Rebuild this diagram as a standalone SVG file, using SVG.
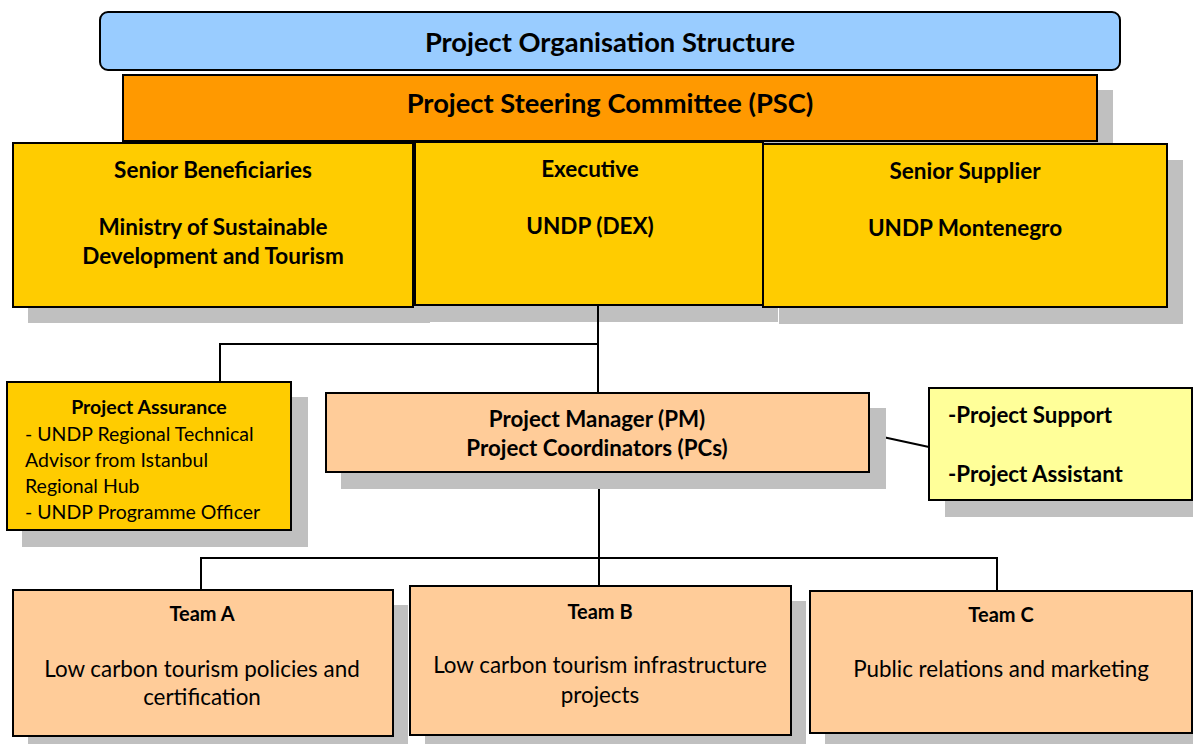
<svg xmlns="http://www.w3.org/2000/svg" width="1193" height="744" viewBox="0 0 1193 744">
<style>
.sh{fill:#c0c0c0}
.box{stroke:#000;stroke-width:2}
.t{font-family:Lato,"Liberation Sans",sans-serif;fill:#000}
.b{font-weight:bold}
.c{text-anchor:middle}
.ln{fill:none;stroke:#000;stroke-width:2}
</style>
<rect width="1193" height="744" fill="#fff"/>
<g id="title">
<rect class="box" x="100" y="12" width="1020" height="58" rx="8" fill="#99ccff"/>
<text class="t b c" x="610" y="52" font-size="27.3">Project Organisation Structure</text>
</g>
<g id="psc">
<rect class="sh" x="138" y="90" width="975" height="66"/>
<rect class="box" x="123" y="75" width="974" height="66" fill="#ff9900"/>
<text class="t b c" x="610" y="113" font-size="27.3">Project Steering Committee (PSC)</text>
</g>
<g id="senior-beneficiaries">
<rect class="sh" x="28" y="158" width="402" height="165"/>
<rect class="box" x="13" y="143" width="400" height="164" fill="#ffcc00"/>
<text class="t b c" x="213" y="178" font-size="22.5">Senior Beneficiaries</text>
<text class="t b c" x="213" y="235" font-size="22.5">Ministry of Sustainable</text>
<text class="t b c" x="213" y="264" font-size="22.5">Development and Tourism</text>
</g>
<g id="executive">
<rect class="sh" x="430" y="157" width="348" height="165"/>
<rect class="box" x="415" y="142" width="348" height="163" fill="#ffcc00"/>
<text class="t b c" x="590" y="177" font-size="22.5">Executive</text>
<text class="t b c" x="590" y="234" font-size="22.5">UNDP (DEX)</text>
</g>
<g id="senior-supplier">
<rect class="sh" x="779" y="160" width="404" height="164"/>
<rect class="box" x="763" y="144" width="404" height="163" fill="#ffcc00"/>
<text class="t b c" x="965" y="179" font-size="22.5">Senior Supplier</text>
<text class="t b c" x="965" y="236" font-size="22.5">UNDP Montenegro</text>
</g>
<g id="connectors">
<polyline class="ln" points="598,305 598,393"/>
<polyline class="ln" points="598,344 220,344 220,382"/>
<line class="ln" x1="869" y1="434" x2="929" y2="447"/>
<polyline class="ln" points="599,472 599,586"/>
<polyline class="ln" points="201,590 201,558 997,558 997,591"/>
</g>
<g id="project-assurance">
<rect class="sh" x="22" y="397" width="286" height="150"/>
<rect class="box" x="7" y="382" width="284" height="148" fill="#ffcc00"/>
<text class="t b c" x="149" y="414" font-size="19.5">Project Assurance</text>
<text class="t" x="25" y="441" font-size="19.5">- UNDP Regional Technical</text>
<text class="t" x="25" y="467" font-size="19.5">Advisor from Istanbul</text>
<text class="t" x="25" y="493" font-size="19.5">Regional Hub</text>
<text class="t" x="25" y="519" font-size="19.5">- UNDP Programme Officer</text>
</g>
<g id="project-manager">
<rect class="sh" x="341" y="408" width="545" height="81"/>
<rect class="box" x="326" y="393" width="543" height="79" fill="#ffcc99"/>
<text class="t b c" x="597" y="427" font-size="22.3">Project Manager (PM)</text>
<text class="t b c" x="597" y="456" font-size="22.3">Project Coordinators (PCs)</text>
</g>
<g id="project-support">
<rect class="sh" x="945" y="404" width="248" height="113"/>
<rect class="box" x="929" y="388" width="263" height="112" fill="#ffff99"/>
<text class="t b" x="948" y="423" font-size="22.3">-Project Support</text>
<text class="t b" x="948" y="482" font-size="22.3">-Project Assistant</text>
</g>
<g id="team-a">
<rect class="sh" x="28" y="605" width="380" height="139"/>
<rect class="box" x="13" y="590" width="380" height="146" fill="#ffcc99"/>
<text class="t b c" x="202" y="621" font-size="20">Team A</text>
<text class="t c" x="202" y="677" font-size="22.4">Low carbon tourism policies and</text>
<text class="t c" x="202" y="705" font-size="22.4">certification</text>
</g>
<g id="team-b">
<rect class="sh" x="425" y="601" width="381" height="143"/>
<rect class="box" x="410" y="586" width="381" height="149" fill="#ffcc99"/>
<text class="t b c" x="600" y="619" font-size="20">Team B</text>
<text class="t c" x="600" y="673" font-size="22.4">Low carbon tourism infrastructure</text>
<text class="t c" x="600" y="703" font-size="22.4">projects</text>
</g>
<g id="team-c">
<rect class="sh" x="825" y="606" width="368" height="138"/>
<rect class="box" x="810" y="591" width="382" height="142" fill="#ffcc99"/>
<text class="t b c" x="1001" y="622" font-size="20">Team C</text>
<text class="t c" x="1001" y="677" font-size="22.4">Public relations and marketing</text>
</g>
</svg>
